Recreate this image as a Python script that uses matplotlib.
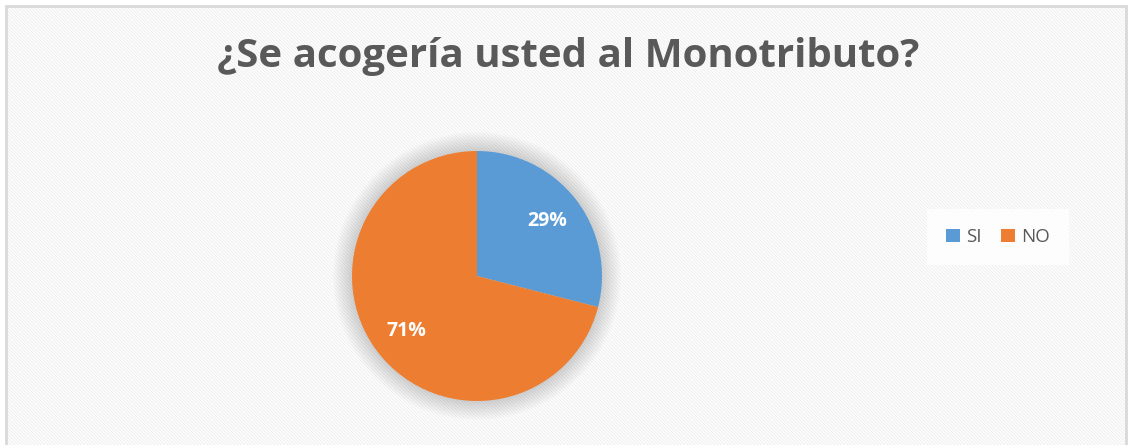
import matplotlib.pyplot as plt
from matplotlib.patches import Rectangle, Circle, Patch

categories = ['SI', 'NO']
values = [29, 71]
colors = ['#5B9BD5', '#ED7D31']
title = '¿Se acogería usted al Monotributo?'

plt.rcParams['font.family'] = ['Open Sans', 'DejaVu Sans']
plt.rcParams['hatch.linewidth'] = 0.8
plt.rcParams['hatch.color'] = '#F0F0F0'

fig = plt.figure(figsize=(11.32, 4.45), dpi=100)
fig.patch.set_facecolor('white')

# striped chart area background + light border
bg = Rectangle((6 / 1132, -0.05), 1120 / 1132, 1.05 - 6 / 445, transform=fig.transFigure,
               facecolor='white', edgecolor='#F0F0F0', hatch='\\' * 10, lw=0, zorder=-2)
fig.patches.append(bg)
border = Rectangle((6 / 1132, -0.05), 1120 / 1132, 1.05 - 6 / 445, transform=fig.transFigure,
                   facecolor='none', edgecolor='#D9D9D9', lw=2, zorder=-1)
fig.patches.append(border)

fig.text(568 / 1132, 1 - 57 / 445, title, ha='center', va='center', fontsize=29,
         fontweight='bold', color='#595959')

ax = fig.add_axes([(477 - 150) / 1132, (169 - 150) / 445, 300 / 1132, 300 / 445])

# soft shadow around the pie
for i in range(14):
    ax.add_patch(Circle((0, 0), 1.0 + 0.011 * (i + 1), facecolor='#000000', alpha=0.012,
                        lw=0, zorder=0))

wedges, texts, autotexts = ax.pie(values, colors=colors, startangle=90, counterclock=False,
                                  autopct='%1.0f%%', pctdistance=0.715, radius=1,
                                  wedgeprops=dict(linewidth=0),
                                  textprops=dict(color='white', fontsize=14, fontweight='bold'))
for w in wedges:
    w.set_zorder(2)
for t in autotexts:
    t.set_zorder(3)
ax.set_xlim(-1.2, 1.2)
ax.set_ylim(-1.2, 1.2)
ax.set_aspect('equal')
ax.axis('off')

handles = [Patch(facecolor=c, edgecolor='none') for c in colors]
leg = fig.legend(handles, categories, loc='center', bbox_to_anchor=(998 / 1132, 1 - 237 / 445),
                 ncol=2, frameon=True, fancybox=False, fontsize=13.5, handlelength=0.75,
                 handleheight=0.75, handletextpad=0.35, columnspacing=1.0, borderpad=1.0,
                 labelcolor='#595959')
leg.get_frame().set_facecolor('white')
leg.get_frame().set_edgecolor('none')

fig.savefig('out.png', dpi=100)
